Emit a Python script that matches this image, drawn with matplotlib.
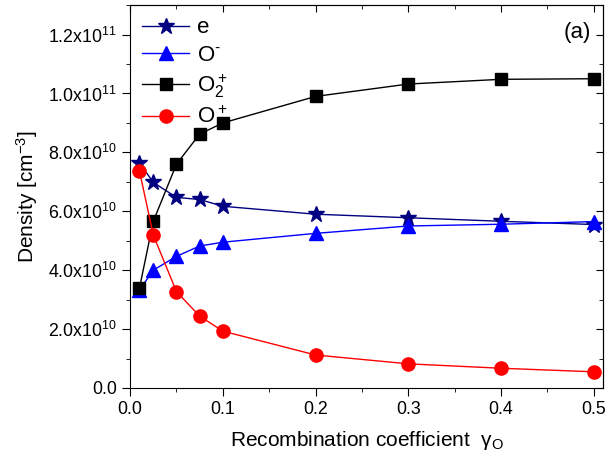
import matplotlib
matplotlib.use('Agg')
import matplotlib.pyplot as plt
from matplotlib.ticker import MultipleLocator, FuncFormatter

plt.rcParams['font.family'] = 'Liberation Sans'
plt.rcParams['mathtext.fontset'] = 'custom'
plt.rcParams['mathtext.rm'] = 'Liberation Sans'
plt.rcParams['mathtext.it'] = 'Liberation Sans'

gamma = [0.01, 0.025, 0.05, 0.075, 0.1, 0.2, 0.3, 0.4, 0.5]
n_e = [7.65e10, 6.98e10, 6.47e10, 6.4e10, 6.17e10, 5.9e10, 5.78e10, 5.66e10, 5.55e10]
n_om = [3.32e10, 4.0e10, 4.47e10, 4.82e10, 4.95e10, 5.25e10, 5.5e10, 5.56e10, 5.65e10]
n_o2p = [3.38e10, 5.66e10, 7.6e10, 8.62e10, 9.0e10, 9.9e10, 10.32e10, 10.48e10, 10.5e10]
n_op = [7.38e10, 5.19e10, 3.27e10, 2.44e10, 1.93e10, 1.12e10, 0.82e10, 0.67e10, 0.55e10]

fig = plt.figure(figsize=(6.08, 4.63), dpi=100)
ax = fig.add_axes([0.214, 0.162, 0.778, 0.827])

ax.plot(gamma, n_e, '-*', color='#000080', ms=12, lw=1, label='e')
ax.plot(gamma, n_om, '-^', color='#0000ff', ms=9.5, lw=1, label='O$^{\\text{-}}$')
ax.plot(gamma, n_o2p, '-s', color='black', ms=8, lw=1, label='O$_2^+$')
ax.plot(gamma, n_op, '-o', color='#ff0000', ms=9.5, lw=1, label='O$^+$')

ax.set_xlim(0, 0.51)
ax.set_ylim(0, 1.3e11)
ax.xaxis.set_major_locator(MultipleLocator(0.1))
ax.xaxis.set_minor_locator(MultipleLocator(0.05))
ax.yaxis.set_major_locator(MultipleLocator(2e10))
ax.yaxis.set_minor_locator(MultipleLocator(1e10))


def sci(v, pos):
    if v == 0:
        return '0.0'
    exp = 10
    while v / 10**exp >= 10:
        exp += 1
    return '%.1fx10$^{%d}$' % (v / 10**exp, exp)


ax.yaxis.set_major_formatter(FuncFormatter(sci))
ax.xaxis.set_major_formatter(FuncFormatter(lambda v, p: '%.1f' % v))

ax.tick_params(which='both', direction='out', labelsize=12.8)
ax.tick_params(which='major', length=5.5, pad=4)
ax.tick_params(which='minor', length=3)

# mirrored inward ticks on top and right
top = ax.secondary_xaxis('top')
top.set_xticks([0.1 * i for i in range(6)])
top.xaxis.set_minor_locator(MultipleLocator(0.05))
top.tick_params(which='both', direction='in', labeltop=False)
top.tick_params(which='major', length=5)
top.tick_params(which='minor', length=3)
right = ax.secondary_yaxis('right')
right.yaxis.set_major_locator(MultipleLocator(2e10))
right.yaxis.set_minor_locator(MultipleLocator(1e10))
right.tick_params(which='both', direction='in', labelright=False)
right.tick_params(which='major', length=5)
right.tick_params(which='minor', length=3)

ax.set_xlabel('Recombination coefficient  $\\gamma_{\\rm O}$', fontsize=15, labelpad=8)
ax.set_ylabel('Density [cm$^{-3}$]', fontsize=15, labelpad=6)
ax.text(0.975, 0.955, '(a)', transform=ax.transAxes, ha='right', va='top', fontsize=16)

ax.legend(loc='upper left', frameon=False, fontsize=16, handlelength=2.1,
          labelspacing=0.3, borderaxespad=0.15, handletextpad=0.35)

fig.savefig('out.png', dpi=100)
